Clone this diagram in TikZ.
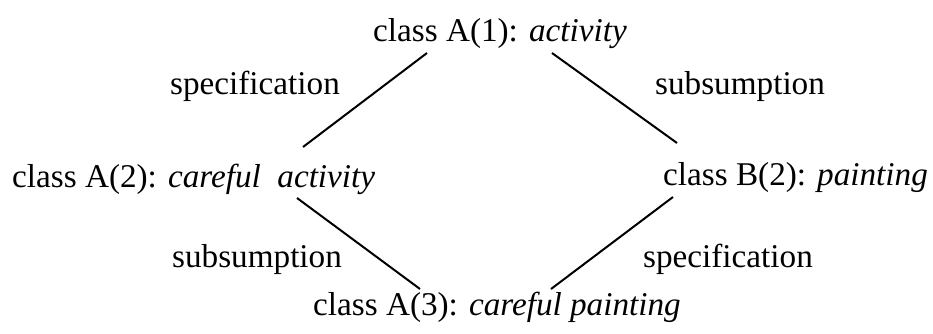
\documentclass[tikz,border=0pt]{standalone}
\usepackage{fontspec}
\setmainfont{Liberation Serif}
\begin{document}
\begin{tikzpicture}[x=1pt,y=-1pt,
  lbl/.style={inner sep=0pt,anchor=base west,font=\fontsize{33.2}{38}\selectfont},
  conn/.style={line width=2pt}]
\useasboundingbox (0,0) rectangle (933,334);
\node[lbl] (a1) at (373,42) {class A(1): \textit{activity}};
\node[lbl] (a2) at (12,187) {class A(2): \textit{careful\ \ activity}};
\node[lbl] (b2) at (663,185) {class B(2): \textit{painting}};
\node[lbl] (a3) at (313,315) {class A(3): \textit{careful painting}};
\node[lbl] (s1) at (170,95) {specification};
\node[lbl] (u1) at (655,95) {subsumption};
\node[lbl] (u2) at (172,267) {subsumption};
\node[lbl] (s2) at (643,267) {specification};
\coordinate (p1) at (427,53);
\coordinate (p2) at (303,147);
\coordinate (p3) at (552,53);
\coordinate (p4) at (677,143);
\coordinate (p5) at (297,198);
\coordinate (p6) at (420,289);
\coordinate (p7) at (673,197);
\coordinate (p8) at (551,289);
\draw[conn] (p1) -- (p2);
\draw[conn] (p3) -- (p4);
\draw[conn] (p5) -- (p6);
\draw[conn] (p7) -- (p8);
\end{tikzpicture}
\end{document}
